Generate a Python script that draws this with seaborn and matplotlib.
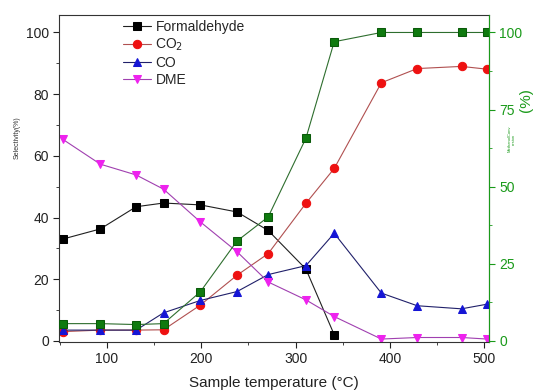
import matplotlib
matplotlib.use("Agg")
import matplotlib.pyplot as plt
from matplotlib.ticker import MultipleLocator
import seaborn as sns

sns.set_style("ticks")
plt.rcParams["font.family"] = ["Liberation Sans", "DejaVu Sans"]

temperature = [53, 93, 131, 160, 199, 238, 271, 311, 341, 391, 429, 476, 503]
formaldehyde = [33.0, 36.3, 43.5, 44.7, 44.1, 41.8, 35.8, 23.3, 2.0]
co2 = [3.0, 3.5, 3.5, 3.6, 11.6, 21.3, 28.3, 44.6, 55.9, 83.7, 88.3, 89.0, 88.1]
co = [3.5, 3.5, 3.5, 9.1, 13.1, 16.0, 21.5, 24.4, 34.9, 15.5, 11.4, 10.4, 11.9]
dme = [65.4, 57.3, 53.8, 49.2, 38.6, 28.9, 19.1, 13.3, 7.9, 0.6, 1.1, 1.1, 0.6]
conversion = [5.6, 5.6, 5.3, 5.6, 15.9, 32.4, 40.2, 65.7, 97.0, 100, 100, 100, 100]

GREEN = "#1a9a1a"

fig = plt.figure(figsize=(5.39, 3.92), dpi=100)
ax = fig.add_axes([0.110, 0.128, 0.797, 0.834])
ax2 = ax.twinx()

series = [
    ("Formaldehyde", temperature[:len(formaldehyde)], formaldehyde, "s", "black", "#202020", "black"),
    ("CO$_2$", temperature, co2, "o", "#ee1111", "#b05050", "#ee1111"),
    ("CO", temperature, co, "^", "#1515d5", "#20206a", "#1515d5"),
    ("DME", temperature, dme, "v", "#ee22ee", "#a040b0", "#ee22ee"),
]
for label, xs, ys, mk, mcol, lcol, ecol in series:
    sns.lineplot(x=xs, y=ys, ax=ax, label=label, marker=mk, color=lcol,
                 markerfacecolor=mcol, markeredgecolor=ecol, markersize=6,
                 linewidth=0.8)

sns.lineplot(x=temperature, y=conversion, ax=ax2, marker="s", color="#2e6e2e",
             markerfacecolor="#0f7a0f", markeredgecolor="#0a5a0a", markersize=6,
             linewidth=0.8, legend=False)

for a in (ax, ax2):
    a.set_xlim(49.5, 505)
    a.set_ylim(-0.3, 105.7)

ax.xaxis.set_major_locator(MultipleLocator(100))
ax.xaxis.set_minor_locator(MultipleLocator(50))
ax.yaxis.set_major_locator(MultipleLocator(20))
ax.yaxis.set_minor_locator(MultipleLocator(10))
ax2.set_yticks([0, 25, 50, 75, 100])
ax2.yaxis.set_minor_locator(MultipleLocator(12.5))

ax.tick_params(axis="both", which="major", length=4, labelsize=10, colors="#222222")
ax.tick_params(axis="both", which="minor", length=2.5, colors="#222222")
ax2.tick_params(axis="y", which="major", length=4, labelsize=10, colors=GREEN)
ax2.tick_params(axis="y", which="minor", length=2.5, colors=GREEN)

for s in ("left", "bottom", "top"):
    ax.spines[s].set_color("#333333")
    ax.spines[s].set_linewidth(0.8)
ax2.spines["right"].set_color(GREEN)
ax2.spines["right"].set_linewidth(0.8)
for s in ("left", "bottom", "top"):
    ax2.spines[s].set_visible(False)

ax.set_xlabel("Sample temperature (°C)", fontsize=11, color="#222222", labelpad=7)
ax.set_ylabel("")
ax2.set_ylabel("")

# axis titles placed directly on the figure
fig.text(0.032, 0.65, "Selectivity(%)", rotation=90, color="#333333", fontsize=5,
         ha="center", va="center")
fig.text(0.975, 0.745, "(%)", rotation=90, color=GREEN, fontsize=11,
         ha="center", va="center")
fig.text(0.950, 0.645, "MethanolConv\nersion", rotation=90, color=GREEN,
         fontsize=3, ha="center", va="center", linespacing=1.0)

ax.legend(loc="upper left", bbox_to_anchor=(0.13, 1.01), frameon=False,
          fontsize=10, handlelength=2.0, handletextpad=0.3, labelspacing=0.2,
          borderaxespad=0.2)

fig.savefig("out.png", dpi=100)
